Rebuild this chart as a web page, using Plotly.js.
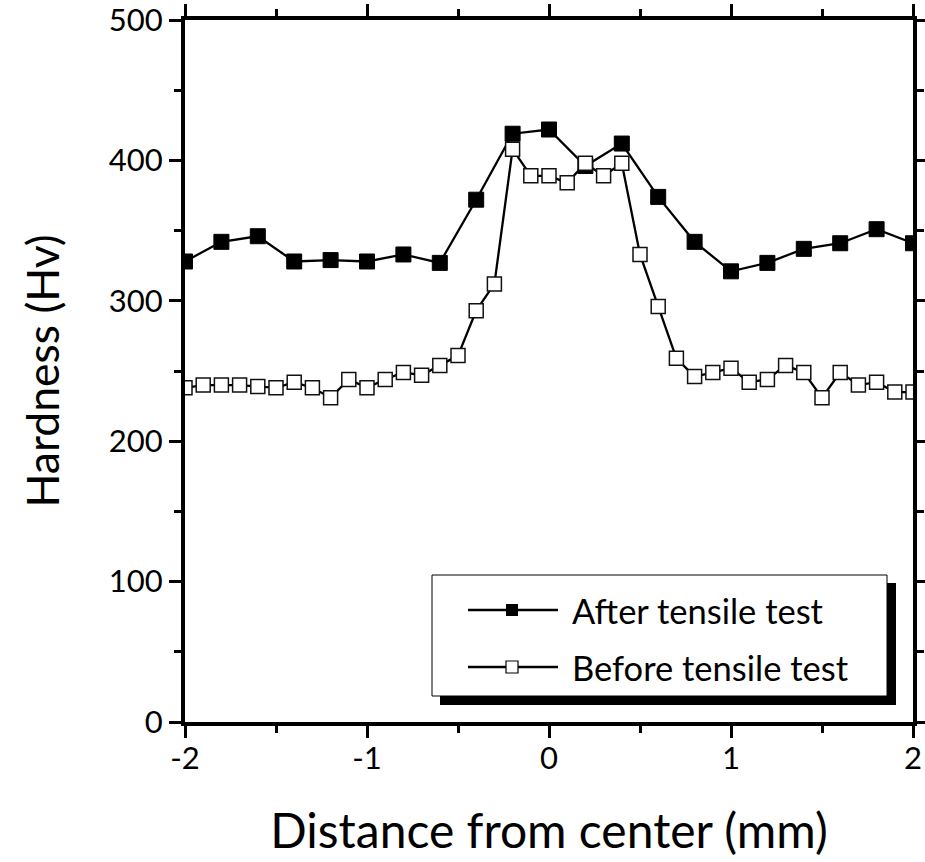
<!DOCTYPE html>
<html>
<head>
<meta charset="utf-8">
<script src="https://cdn.plot.ly/plotly-3.0.1.min.js"></script>
<style>html,body{margin:0;padding:0;background:#fff;}#chart{width:925px;height:862px;}</style>
</head>
<body>
<div id="chart"></div>
<script>
// ---- data ----
const afterX = [-2.0,-1.8,-1.6,-1.4,-1.2,-1.0,-0.8,-0.6,-0.4,-0.2,0.0,0.2,0.4,0.6,0.8,1.0,1.2,1.4,1.6,1.8,2.0];
const afterY = [328,342,346,328,329,328,333,327,372,419,422,396,412,374,342,321,327,337,341,351,341];

const beforeX = [-2.0,-1.9,-1.8,-1.7,-1.6,-1.5,-1.4,-1.3,-1.2,-1.1,-1.0,-0.9,-0.8,-0.7,-0.6,-0.5,-0.4,-0.3,-0.2,-0.1,
                 0.0,0.1,0.2,0.3,0.4,0.5,0.6,0.7,0.8,0.9,1.0,1.1,1.2,1.3,1.4,1.5,1.6,1.7,1.8,1.9,2.0];
const beforeY = [238,240,240,240,239,238,242,238,231,244,238,244,249,247,254,261,293,312,408,389,
                 389,384,398,389,398,333,296,259,246,249,252,242,244,254,249,231,249,240,242,235,235];

const seriesNames = ["After tensile test", "Before tensile test"];
const xTitle = "Distance from center (mm)";
const yTitle = "Hardness (Hv)";

// ---- layout helpers ----
const W = 925, H = 862;
const M = {l:185, r:12, t:20, b:140};
const PW = W - M.l - M.r, PH = H - M.t - M.b;
const px = v => (v - M.l) / PW;
const py = v => (H - M.b - v) / PH;
const FONT = "Lato, 'Open Sans', sans-serif";

const traces = [
  {x: afterX, y: afterY, name: seriesNames[0], type: 'scatter', mode: 'lines+markers',
   line: {color: '#000', width: 2.3},
   marker: {symbol: 'square', size: 15, color: '#000', line: {color: '#000', width: 1}}},
  {x: beforeX, y: beforeY, name: seriesNames[1], type: 'scatter', mode: 'lines+markers',
   line: {color: '#000', width: 2.3},
   marker: {symbol: 'square', size: 14, color: '#fff', line: {color: '#111', width: 1.5}}}
];

const axisCommon = {
  showline: true, linecolor: '#000', linewidth: 4, mirror: 'allticks',
  ticks: 'outside', ticklen: 12, tickwidth: 3, tickcolor: '#000',
  showgrid: false, zeroline: false, ticklabeloverflow: 'allow',
  tickfont: {family: FONT, size: 31, color: '#000'}
};

// legend geometry (pixels)
const box = {x0: 432, y0: 575, x1: 887, y1: 696};
const rows = [610, 667];
const lineX0 = 468, lineX1 = 558, mkX = 512, mk = 6;

const shapes = [
  {type: 'rect', xref: 'paper', yref: 'paper', layer: 'above',
   x0: px(box.x0 + 8), x1: px(box.x1 + 9), y0: py(box.y0 + 8), y1: py(box.y1 + 9),
   fillcolor: '#000', line: {width: 0}},
  {type: 'rect', xref: 'paper', yref: 'paper', layer: 'above',
   x0: px(box.x0), x1: px(box.x1), y0: py(box.y0), y1: py(box.y1),
   fillcolor: '#fff', line: {color: '#000', width: 1}}
];
rows.forEach((ry, i) => {
  shapes.push({type: 'line', xref: 'paper', yref: 'paper', layer: 'above',
    x0: px(lineX0), x1: px(lineX1), y0: py(ry), y1: py(ry), line: {color: '#000', width: 2.3}});
  shapes.push({type: 'rect', xref: 'paper', yref: 'paper', layer: 'above',
    x0: px(mkX - mk), x1: px(mkX + mk), y0: py(ry - mk), y1: py(ry + mk),
    fillcolor: i === 0 ? '#000' : '#fff', line: {color: '#000', width: i === 0 ? 0 : 1.2}});
});

const annotations = seriesNames.map((t, i) => ({
  text: t, xref: 'paper', yref: 'paper', x: px(570), y: py(rows[i]),
  xanchor: 'left', yanchor: 'middle', showarrow: false,
  font: {family: FONT, size: 34.5, color: '#000'}
}));

const layout = {
  width: W, height: H, margin: M,
  paper_bgcolor: '#fff', plot_bgcolor: '#fff',
  showlegend: false,
  xaxis: Object.assign({}, axisCommon, {
    range: [-2, 2], tickvals: [-2, -1, 0, 1, 2], ticktext: ['-2', '-1', '0', '1', '2'],
    ticklabelstandoff: -6,
    minor: {dtick: 0.5, tick0: 0, ticks: 'outside', ticklen: 7, tickwidth: 3, tickcolor: '#000'},
    title: {text: xTitle, font: {family: FONT, size: 48, color: '#000'}, standoff: 40}
  }),
  yaxis: Object.assign({}, axisCommon, {
    range: [0, 500], tickvals: [0, 100, 200, 300, 400, 500],
    ticklabelstandoff: 0,
    minor: {dtick: 50, tick0: 0, ticks: 'outside', ticklen: 7, tickwidth: 3, tickcolor: '#000'},
    title: {text: yTitle, font: {family: FONT, size: 44.5, color: '#000'}, standoff: 36}
  }),
  shapes: shapes,
  annotations: annotations
};

Plotly.newPlot('chart', traces, layout, {displayModeBar: false, staticPlot: true});
</script>
</body>
</html>
